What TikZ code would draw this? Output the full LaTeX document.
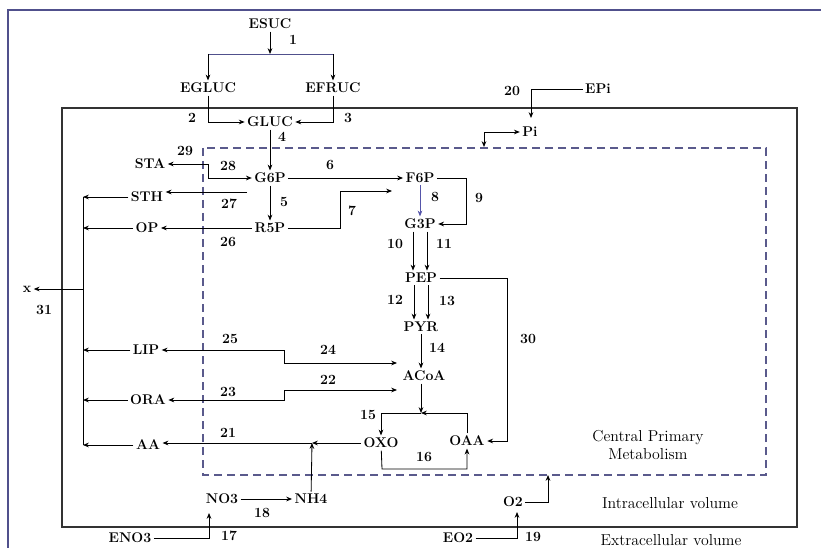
\documentclass[tikz,border=0pt]{standalone}
\usepackage{tikz}
\usetikzlibrary{arrows.meta}
\definecolor{framecol}{RGB}{80,80,140}
\definecolor{dashcol}{RGB}{90,90,140}
\definecolor{bluearrow}{RGB}{85,85,170}

\tikzset{
  met/.style={font=\fontsize{12}{14}\selectfont\bfseries, inner sep=2pt},
  num/.style={font=\fontsize{12}{14}\selectfont\bfseries, inner sep=1pt},
  note/.style={font=\fontsize{13.5}{16}\selectfont, align=center},
  flow/.style={-{Stealth[length=5pt,width=4pt]}, line width=0.7pt},
  both/.style={{Stealth[length=5pt,width=4pt]}-{Stealth[length=5pt,width=4pt]}, line width=0.7pt},
  bus/.style={line width=0.7pt},
}

\begin{document}
\begin{tikzpicture}[x=0.3mm,y=-0.3mm]
                \useasboundingbox (0,0) rectangle (821,548);
                % frames: page, cell, central metabolism
                \draw[framecol, line width=1pt] (8,548) -- (8,10) -- (821,10);
                \draw[black!80, line width=1.4pt] (62,108) rectangle (797,527);
                \draw[dashcol, line width=1pt, dash pattern=on 2.4mm off 1.5mm] (203,148) rectangle (766,475);
                % metabolites
                \node[met] (esuc) at (270,24) {ESUC};
                \node[met] (egluc) at (208,88) {EGLUC};
                \node[met] (efruc) at (333,88) {EFRUC};
                \node[met] (gluc) at (270,122) {GLUC};
                \node[met] (g6p) at (270,178) {G6P};
                \node[met] (f6p) at (420,178) {F6P};
                \node[met] (r5p) at (270,228) {R5P};
                \node[met] (g3p) at (420,224) {G3P};
                \node[met] (pep) at (421,278) {PEP};
                \node[met] (pyr) at (421,327) {PYR};
                \node[met] (acoa) at (424,376) {ACoA};
                \node[met] (oxo) at (381,443) {OXO};
                \node[met] (oaa) at (467,441) {OAA};
                \node[met] (sta) at (150,164) {STA};
                \node[met] (sth) at (147,197) {STH};
                \node[met] (op) at (147,228) {OP};
                \node[met] (lip) at (146,350) {LIP};
                \node[met] (ora) at (148,400) {ORA};
                \node[met] (aa) at (148,445) {AA};
                \node[met] (biomass) at (27,289) {x};
                \node[met] (no3) at (222,499) {NO3};
                \node[met] (nh4) at (311,499) {NH4};
                \node[met] (eno3) at (130,538) {ENO3};
                \node[met] (o2) at (513,502) {O2};
                \node[met] (eo2) at (458,538) {EO2};
                \node[met] (epi) at (598,89) {EPi};
                \node[met] (pi) at (530,132) {Pi};
                % bend points
                \coordinate (split) at (270,54);
                \coordinate (c28) at (208,164);
                \coordinate (c27) at (247,192);
                \coordinate (c7) at (340,191);
                \coordinate (c7end) at (392,191);
                \coordinate (c9) at (466,178);
                \coordinate (c30) at (507,278);
                \coordinate (c15) at (421,413);
                \coordinate (c16) at (382,469);
                \coordinate (c21) at (312,443);
                \coordinate (c24) at (284,350);
                \coordinate (c24end) at (397,363);
                \coordinate (c22) at (284,400);
                \coordinate (c22end) at (397,390);
                \coordinate (xbus) at (83,289);
                \coordinate (c17) at (209,513);
                \coordinate (c19) at (517,512);
                \coordinate (cO2) at (548,475);
                \coordinate (c20) at (531,118);
                \coordinate (cpi) at (484,147);
                % reactions
                \draw[flow] (esuc) -- (split);
                \draw[bus, framecol] (egluc |- split) -- (efruc |- split);
                \draw[flow] (egluc |- split) -- (egluc);
                \draw[flow] (efruc |- split) -- (efruc);
                \draw[flow] (egluc) |- (gluc);
                \draw[flow] (efruc) |- (gluc);
                \draw[flow] (gluc) -- (g6p);
                \draw[flow] (g6p) -- (f6p);
                \draw[both] (sta) -- (c28) |- (g6p);
                \draw[flow] (c27) -- (c27 -| sth.east);
                \draw[flow] (g6p) -- (r5p);
                \draw[flow] (r5p) -- (op);
                \draw[flow] (r5p) -| (c7) -- (c7end);
                \draw[flow, draw=bluearrow] (f6p) -- (g3p);
                \draw[flow] (f6p) -- (c9) |- (g3p);
                \draw[flow] ([xshift=-2.1mm]g3p.south) -- ([xshift=-2.1mm]g3p.south |- pep.north);
                \draw[flow] ([xshift=2.1mm]g3p.south) -- ([xshift=2.1mm]g3p.south |- pep.north);
                \draw[flow] ([xshift=-2.1mm]pep.south) -- ([xshift=-2.1mm]pyr.north);
                \draw[flow] ([xshift=2.1mm]pep.south) -- ([xshift=2.1mm]pyr.north);
                \draw[flow] (pep) -- (c30) |- (oaa);
                \draw[flow] (pyr) -- (pyr |- acoa.north);
                \draw[flow] (acoa.south -| c15) -- (c15);
                \draw[flow] (c15) -| (oxo);
                \draw[flow] (oaa) |- (c15);
                \draw[flow] (oxo) -- (c16) -| (oaa);
                \draw[flow] (oxo) -- (c21);
                \draw[flow] (nh4) -- (c21);
                \draw[flow] (c21) -- (c21 -| aa.east);
                \draw[both] (lip) -- (c24) |- (c24end);
                \draw[both] (ora) -- (c22) |- (c22end);
                % outputs to x
                \draw[bus] (sth -| xbus) -- (aa -| xbus);
                \draw[flow] (sth) -- (sth -| xbus);
                \draw[flow] (op) -- (op -| xbus);
                \draw[flow] (lip) -- (lip -| xbus);
                \draw[flow] (ora) -- (ora -| xbus);
                \draw[flow] (aa) -- (aa -| xbus);
                \draw[flow] (xbus) -- (biomass);
                % uptake
                \draw[flow] (no3) -- (nh4);
                \draw[flow] (eno3) -| (c17);
                \draw[flow] (eo2) -| (c19);
                \draw[flow] (o2) -| (cO2);
                \draw[flow] (epi) -| (c20);
                \draw[both] (cpi) |- (pi);
                % reaction numbers
                \node[num] (r1) at (293,40) {1};
                \node[num] (r2) at (192,118) {2};
                \node[num] (r3) at (348,118) {3};
                \node[num] (r4) at (282,137) {4};
                \node[num] (r5) at (284,202) {5};
                \node[num] (r6) at (330,165) {6};
                \node[num] (r7) at (352,211) {7};
                \node[num] (r8) at (435,197) {8};
                \node[num] (r9) at (479,198) {9};
                \node[num] (r10) at (395,244) {10};
                \node[num] (r11) at (444,244) {11};
                \node[num] (r12) at (395,300) {12};
                \node[num] (r13) at (447,301) {13};
                \node[num] (r14) at (437,348) {14};
                \node[num] (r15) at (368,415) {15};
                \node[num] (r16) at (424,457) {16};
                \node[num] (r17) at (229,536) {17};
                \node[num] (r18) at (262,513) {18};
                \node[num] (r19) at (533,537) {19};
                \node[num] (r20) at (512,91) {20};
                \node[num] (r21) at (228,433) {21};
                \node[num] (r22) at (328,380) {22};
                \node[num] (r23) at (228,392) {23};
                \node[num] (r24) at (328,350) {24};
                \node[num] (r25) at (230,339) {25};
                \node[num] (r26) at (228,242) {26};
                \node[num] (r27) at (229,204) {27};
                \node[num] (r28) at (228,166) {28};
                \node[num] (r29) at (185,151) {29};
                \node[num] (r30) at (528,339) {30};
                \node[num] (r31) at (44,310) {31};
                % compartment names
                \node[note] (cpm) at (648,445) {Central Primary\\Metabolism};
                \node[note] (intra) at (670,503) {Intracellular volume};
                \node[note] (extra) at (671,540) {Extracellular volume};
            \end{tikzpicture}
\end{document}
